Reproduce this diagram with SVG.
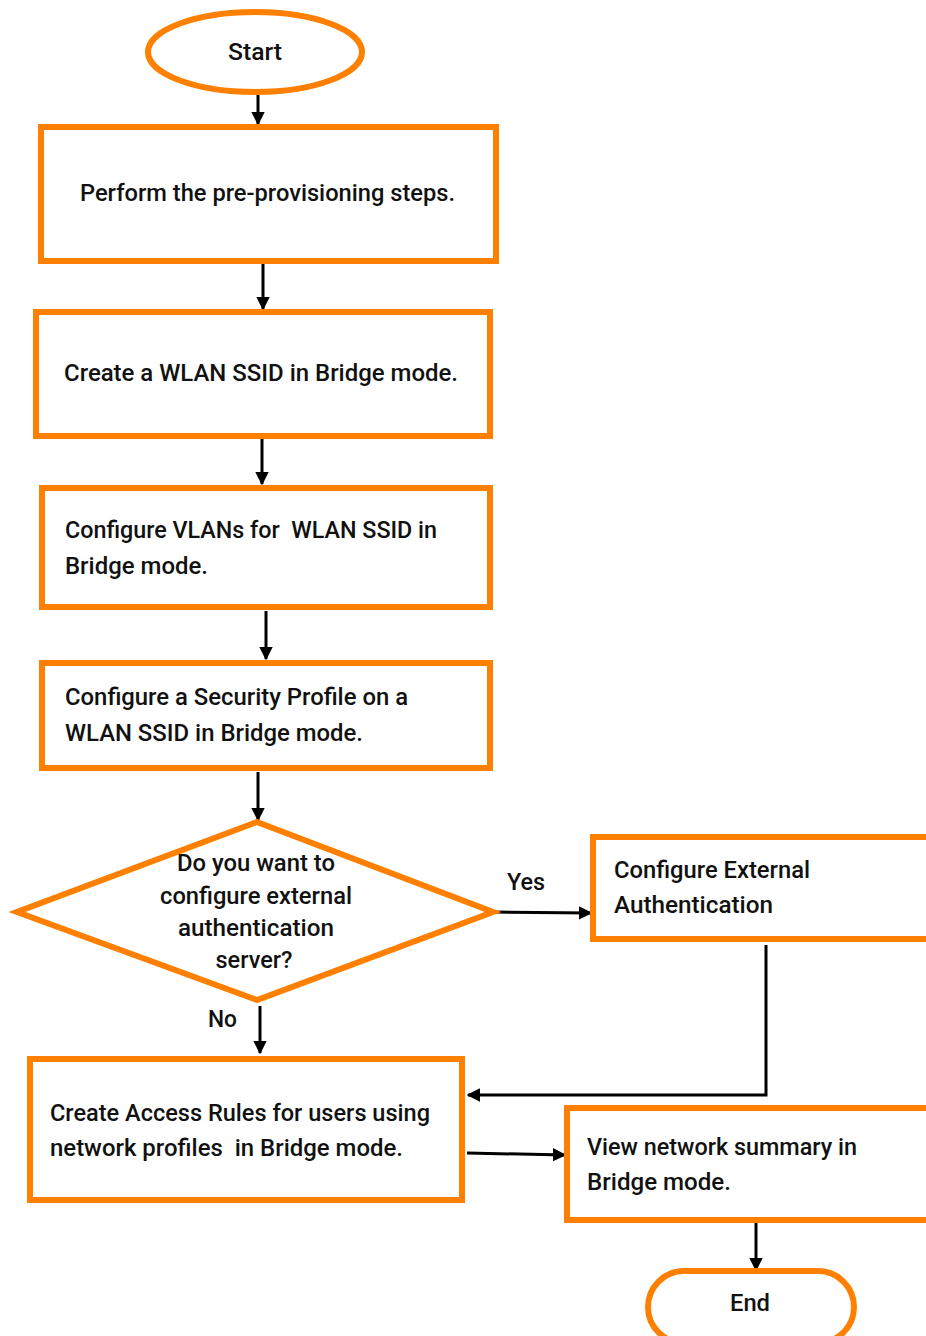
<svg xmlns="http://www.w3.org/2000/svg" width="926" height="1336" viewBox="0 0 926 1336">
  <style>
    .shape { fill: #ffffff; stroke: #FF8000; stroke-width: 6; }
    .lbl { font-family: Roboto, "Liberation Sans", sans-serif; font-weight: 500; font-size: 24px; fill: #111111; }
    .mid { text-anchor: middle; }
    .conn { fill: none; stroke: #000000; stroke-width: 3; }
  </style>
  <defs>
    <marker id="arrow" viewBox="0 0 10 10" refX="9" refY="5" markerWidth="4.5" markerHeight="4.5" markerUnits="strokeWidth" orient="auto">
      <path d="M0,0 L10,5 L0,10 Z" fill="#000000"/>
    </marker>
  </defs>

  <rect width="926" height="1336" fill="#ffffff"/>

  <g id="connectors">
    <line class="conn" x1="258" y1="95" x2="258" y2="124" marker-end="url(#arrow)"/>
    <line class="conn" x1="263" y1="256" x2="263" y2="309" marker-end="url(#arrow)"/>
    <line class="conn" x1="262" y1="438" x2="262" y2="484" marker-end="url(#arrow)"/>
    <line class="conn" x1="266" y1="611" x2="266" y2="659" marker-end="url(#arrow)"/>
    <line class="conn" x1="258" y1="772" x2="258" y2="820" marker-end="url(#arrow)"/>
    <line class="conn" x1="495" y1="912" x2="591" y2="913" marker-end="url(#arrow)"/>
    <polyline class="conn" points="766,945 766,1095 468,1095" marker-end="url(#arrow)"/>
    <line class="conn" x1="260" y1="1006" x2="260" y2="1053" marker-end="url(#arrow)"/>
    <line class="conn" x1="467" y1="1153" x2="565" y2="1155" marker-end="url(#arrow)"/>
    <line class="conn" x1="756" y1="1222" x2="756" y2="1270" marker-end="url(#arrow)"/>
  </g>

  <g id="start">
    <ellipse class="shape" cx="255" cy="52" rx="107" ry="40"/>
    <text class="lbl mid" x="255" y="60" textLength="54" lengthAdjust="spacingAndGlyphs">Start</text>
  </g>

  <g id="preprovision">
    <rect class="shape" x="41" y="127" width="455" height="134"/>
    <text class="lbl" x="80" y="201" textLength="375" lengthAdjust="spacingAndGlyphs">Perform the pre-provisioning steps.</text>
  </g>

  <g id="create-ssid">
    <rect class="shape" x="36" y="312" width="454" height="124"/>
    <text class="lbl" x="64" y="381" textLength="394" lengthAdjust="spacingAndGlyphs">Create a WLAN SSID in Bridge mode.</text>
  </g>

  <g id="configure-vlans">
    <rect class="shape" x="42" y="488" width="448" height="119"/>
    <text class="lbl" x="65" y="538" textLength="372" lengthAdjust="spacingAndGlyphs" xml:space="preserve">Configure VLANs for  WLAN SSID in</text>
    <text class="lbl" x="65" y="574" textLength="143" lengthAdjust="spacingAndGlyphs">Bridge mode.</text>
  </g>

  <g id="security-profile">
    <rect class="shape" x="42" y="663" width="448" height="105"/>
    <text class="lbl" x="65" y="705" textLength="343" lengthAdjust="spacingAndGlyphs">Configure a Security Profile on a</text>
    <text class="lbl" x="65" y="741" textLength="298" lengthAdjust="spacingAndGlyphs">WLAN SSID in Bridge mode.</text>
  </g>

  <g id="ext-auth-decision">
    <polygon class="shape" points="257,822 493,912 257,1000 17,912"/>
    <text class="lbl mid" x="256" y="871" textLength="158" lengthAdjust="spacingAndGlyphs">Do you want to</text>
    <text class="lbl mid" x="256" y="904" textLength="192" lengthAdjust="spacingAndGlyphs">configure external</text>
    <text class="lbl mid" x="256" y="936" textLength="156" lengthAdjust="spacingAndGlyphs">authentication</text>
    <text class="lbl mid" x="254" y="968" textLength="77" lengthAdjust="spacingAndGlyphs">server?</text>
  </g>

  <g id="yes-label">
    <text class="lbl" x="507" y="890" textLength="38" lengthAdjust="spacingAndGlyphs">Yes</text>
  </g>

  <g id="no-label">
    <text class="lbl" x="208" y="1027" textLength="29" lengthAdjust="spacingAndGlyphs">No</text>
  </g>

  <g id="configure-ext-auth">
    <rect class="shape" x="593" y="837" width="340" height="102"/>
    <text class="lbl" x="614" y="878" textLength="196" lengthAdjust="spacingAndGlyphs">Configure External</text>
    <text class="lbl" x="614" y="913" textLength="159" lengthAdjust="spacingAndGlyphs">Authentication</text>
  </g>

  <g id="access-rules">
    <rect class="shape" x="30" y="1059" width="432" height="141"/>
    <text class="lbl" x="50" y="1121" textLength="380" lengthAdjust="spacingAndGlyphs">Create Access Rules for users using</text>
    <text class="lbl" x="50" y="1156" textLength="353" lengthAdjust="spacingAndGlyphs" xml:space="preserve">network profiles  in Bridge mode.</text>
  </g>

  <g id="network-summary">
    <rect class="shape" x="567" y="1108" width="366" height="112"/>
    <text class="lbl" x="587" y="1155" textLength="270" lengthAdjust="spacingAndGlyphs">View network summary in</text>
    <text class="lbl" x="587" y="1190" textLength="144" lengthAdjust="spacingAndGlyphs">Bridge mode.</text>
  </g>

  <g id="end">
    <rect class="shape" x="648" y="1271" width="206" height="72" rx="36" ry="36"/>
    <text class="lbl mid" x="750" y="1311" textLength="40" lengthAdjust="spacingAndGlyphs">End</text>
  </g>
</svg>
